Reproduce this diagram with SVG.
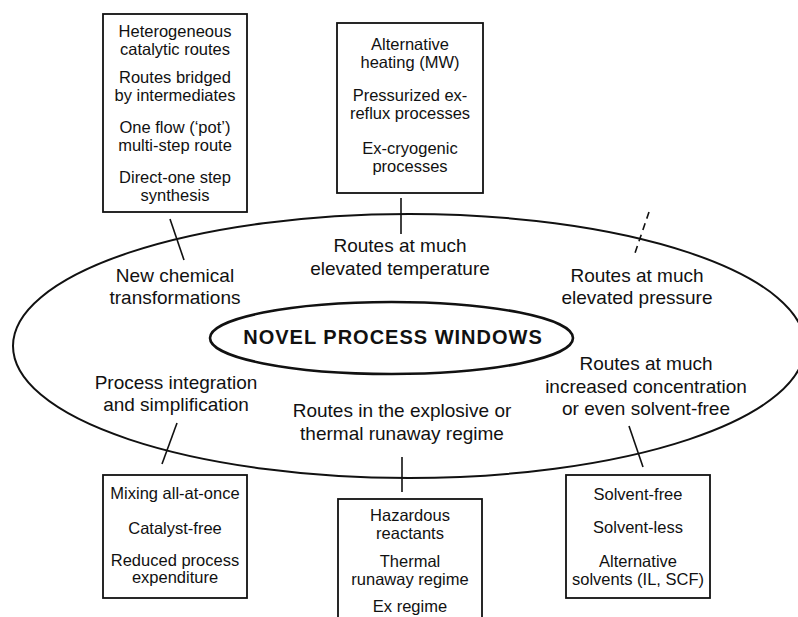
<svg xmlns="http://www.w3.org/2000/svg" width="798" height="617" viewBox="0 0 798 617">
<style>
.box{fill:#fff;stroke:#111;stroke-width:1.8}
.bt{font-family:"Liberation Sans",Arial,sans-serif;font-size:16.5px;fill:#111;text-anchor:middle}
.lb{font-family:"Liberation Sans",Arial,sans-serif;font-size:19px;fill:#111;text-anchor:middle}
.ttl{font-family:"Liberation Sans",Arial,sans-serif;font-size:20px;font-weight:bold;fill:#111;text-anchor:middle;letter-spacing:1px}
.con{stroke:#111;stroke-width:1.6;fill:none}
.dash{stroke-dasharray:7,5}
</style>
<rect width="798" height="617" fill="#fff"/>
<g id="outer">
<ellipse cx="409" cy="346" rx="396" ry="132" fill="none" stroke="#111" stroke-width="2"/>
</g>
<g id="center">
<ellipse cx="391.5" cy="338" rx="181.5" ry="36" fill="none" stroke="#111" stroke-width="2.6"/>
<text class="ttl" x="393" y="344">NOVEL PROCESS WINDOWS</text>
</g>
<g id="connectors">
<line class="con" x1="170" y1="219" x2="184" y2="260"/>
<line class="con" x1="401" y1="198" x2="401" y2="234"/>
<line class="con dash" x1="649" y1="212" x2="635" y2="253"/>
<line class="con" x1="177" y1="423" x2="162" y2="464"/>
<line class="con" x1="402" y1="457" x2="402" y2="492"/>
<line class="con" x1="629" y1="426" x2="643" y2="467"/>
</g>
<g id="label-chem">
<text class="lb" x="175" y="282">New chemical</text>
<text class="lb" x="175" y="304">transformations</text>
</g>
<g id="label-temp">
<text class="lb" x="400" y="252">Routes at much</text>
<text class="lb" x="400" y="275">elevated temperature</text>
</g>
<g id="label-pressure">
<text class="lb" x="637" y="282">Routes at much</text>
<text class="lb" x="637" y="304">elevated pressure</text>
</g>
<g id="label-integration">
<text class="lb" x="176" y="389">Process integration</text>
<text class="lb" x="176" y="411">and simplification</text>
</g>
<g id="label-explosive">
<text class="lb" x="402" y="417">Routes in the explosive or</text>
<text class="lb" x="402" y="440">thermal runaway regime</text>
</g>
<g id="label-concentration">
<text class="lb" x="646" y="370">Routes at much</text>
<text class="lb" x="646" y="393">increased concentration</text>
<text class="lb" x="646" y="415">or even solvent-free</text>
</g>
<g id="box-chem">
<rect class="box" x="103" y="14" width="144" height="198"/>
<text class="bt" x="175" y="37">Heterogeneous</text>
<text class="bt" x="175" y="55">catalytic routes</text>
<text class="bt" x="175" y="83">Routes bridged</text>
<text class="bt" x="175" y="101">by intermediates</text>
<text class="bt" x="175" y="133">One flow (‘pot’)</text>
<text class="bt" x="175" y="151">multi-step route</text>
<text class="bt" x="175" y="183">Direct-one step</text>
<text class="bt" x="175" y="201">synthesis</text>
</g>
<g id="box-temp">
<rect class="box" x="337" y="23" width="146" height="170"/>
<text class="bt" x="410" y="50">Alternative</text>
<text class="bt" x="410" y="68">heating (MW)</text>
<text class="bt" x="410" y="101">Pressurized ex-</text>
<text class="bt" x="410" y="119">reflux processes</text>
<text class="bt" x="410" y="154">Ex-cryogenic</text>
<text class="bt" x="410" y="172">processes</text>
</g>
<g id="box-integration">
<rect class="box" x="103" y="475" width="144" height="123"/>
<text class="bt" x="175" y="499">Mixing all-at-once</text>
<text class="bt" x="175" y="534">Catalyst-free</text>
<text class="bt" x="175" y="566">Reduced process</text>
<text class="bt" x="175" y="583">expenditure</text>
</g>
<g id="box-explosive">
<rect class="box" x="338" y="499" width="144" height="130"/>
<text class="bt" x="410" y="521">Hazardous</text>
<text class="bt" x="410" y="539">reactants</text>
<text class="bt" x="410" y="567">Thermal</text>
<text class="bt" x="410" y="585">runaway regime</text>
<text class="bt" x="410" y="612">Ex regime</text>
</g>
<g id="box-concentration">
<rect class="box" x="566" y="475" width="144" height="123"/>
<text class="bt" x="638" y="500">Solvent-free</text>
<text class="bt" x="638" y="533">Solvent-less</text>
<text class="bt" x="638" y="567">Alternative</text>
<text class="bt" x="638" y="585">solvents (IL, SCF)</text>
</g>
</svg>
